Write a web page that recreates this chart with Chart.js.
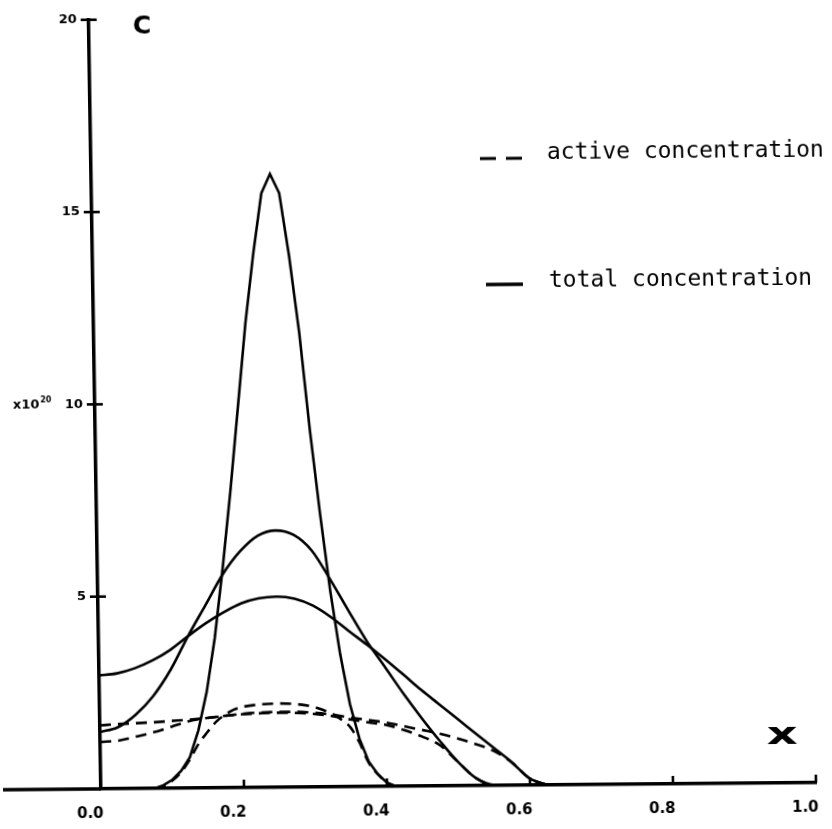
<!DOCTYPE html>
<html><head><meta charset="utf-8">
<style>
html,body{margin:0;padding:0;background:#fff;overflow:hidden;}
#wrap{position:absolute;left:0;top:0;width:860px;height:829px;}
canvas{transform:matrix(1,-0.0087,0.016,1,0,0);transform-origin:101px 789px;}
</style>
<script src="https://cdn.jsdelivr.net/npm/chart.js@4.4.1/dist/chart.umd.min.js"></script>
</head><body>
<div id="wrap"><canvas id="c" width="860" height="829"></canvas></div>
<script>
// ---- data ----
const xTickValues = [0, 0.2, 0.4, 0.6, 0.8, 1.0];
const yTickValues = [5, 10, 15, 20];
const seriesLabels = ["active concentration", "total concentration"];

const sharpX = [0, 0.075, 0.0875, 0.1, 0.1125, 0.125, 0.1375, 0.15, 0.1625, 0.175, 0.1875, 0.2, 0.2125, 0.225, 0.2375, 0.25, 0.2625, 0.275, 0.2875, 0.3, 0.3125, 0.325, 0.3375, 0.35, 0.3625, 0.375, 0.3875, 0.4, 0.4125];
const sharpTotal = [0, 0, 0.08, 0.22, 0.45, 0.8, 1.5, 2.5, 3.9, 5.7, 7.7, 9.9, 12.1, 13.9, 15.45, 15.95, 15.45, 13.8, 11.8, 9.3, 7.1, 5.1, 3.45, 2.15, 1.25, 0.65, 0.32, 0.1, 0];

const sharpActiveX = [0, 0.075, 0.0875, 0.1, 0.1125, 0.125, 0.1375, 0.15, 0.1625, 0.175, 0.1875, 0.2, 0.225, 0.25, 0.275, 0.3, 0.3125, 0.325, 0.3375, 0.35, 0.3625, 0.375, 0.3875, 0.4, 0.4125];
const sharpActive = [0, 0, 0.05, 0.2, 0.42, 0.75, 1.15, 1.45, 1.72, 1.9, 2.03, 2.1, 2.16, 2.18, 2.16, 2.08, 2.0, 1.9, 1.75, 1.55, 1.15, 0.62, 0.32, 0.1, 0];

const gridX = [0, 0.025, 0.05, 0.075, 0.1, 0.125, 0.15, 0.175, 0.2, 0.225, 0.25, 0.275, 0.3, 0.325, 0.35, 0.375, 0.4, 0.425, 0.45, 0.475, 0.5, 0.525, 0.55, 0.575, 0.6, 0.625];
const mediumTotal = [1.48, 1.6, 1.92, 2.4, 3.08, 3.95, 4.75, 5.55, 6.15, 6.55, 6.68, 6.56, 6.15, 5.4, 4.58, 3.78, 3.1, 2.41, 1.77, 1.17, 0.62, 0.19, 0.01, 0];
const mediumActive = [1.22, 1.25, 1.35, 1.46, 1.6, 1.74, 1.82, 1.87, 1.91, 1.93, 1.94, 1.93, 1.9, 1.84, 1.75, 1.67, 1.6, 1.46, 1.29, 1.06, 0.62, 0.19, 0.01, 0];
const wideTotal = [2.95, 3.0, 3.13, 3.33, 3.6, 3.95, 4.28, 4.56, 4.79, 4.92, 4.96, 4.9, 4.72, 4.42, 4.05, 3.69, 3.31, 2.91, 2.5, 2.12, 1.74, 1.36, 0.98, 0.6, 0.17, 0];
const wideActive = [1.65, 1.68, 1.7, 1.72, 1.75, 1.78, 1.82, 1.87, 1.92, 1.95, 1.96, 1.96, 1.93, 1.88, 1.8, 1.73, 1.66, 1.56, 1.46, 1.36, 1.23, 1.08, 0.9, 0.6, 0.17, 0];

// ---- build ----
const pts = (xs, ys) => ys.map((v, i) => ({x: xs[i], y: v}));
const INK = '#000';
const DASH = [11, 7];
const solid = (label, data, smooth) => ({label, data, showLine: true, borderColor: INK, borderWidth: 2.6, pointRadius: 0,
  tension: smooth ? 0.4 : 0, cubicInterpolationMode: smooth ? 'monotone' : 'default', fill: false});
const dashed = (label, data, smooth) => ({label, data, showLine: true, borderColor: INK, borderWidth: 2.6, borderDash: DASH, pointRadius: 0,
  tension: smooth ? 0.4 : 0, cubicInterpolationMode: smooth ? 'monotone' : 'default', fill: false});

const datasets = [
  solid(seriesLabels[1], pts(sharpX, sharpTotal), false),
  solid(seriesLabels[1], pts(gridX, mediumTotal), true),
  solid(seriesLabels[1], pts(gridX, wideTotal), true),
  dashed(seriesLabels[0], pts(sharpActiveX, sharpActive), true),
  dashed(seriesLabels[0], pts(gridX, mediumActive), true),
  dashed(seriesLabels[0], pts(gridX, wideActive), true)
];

const decor = {
  id: 'decor',
  afterDraw(chart) {
    const {ctx, chartArea: a, scales: {x, y}} = chart;
    ctx.save();
    ctx.strokeStyle = INK; ctx.fillStyle = INK; ctx.lineCap = 'butt';
    const y0 = y.getPixelForValue(0);
    // x axis continues left of the y axis
    ctx.lineWidth = 3.5;
    ctx.beginPath(); ctx.moveTo(3, y0); ctx.lineTo(a.left, y0); ctx.stroke();
    // y ticks crossing the axis
    ctx.lineWidth = 2.6;
    yTickValues.forEach(v => {
      const py = y.getPixelForValue(v);
      ctx.beginPath(); ctx.moveTo(a.left - 8, py); ctx.lineTo(a.left + 8, py); ctx.stroke();
    });
    // x ticks pointing up
    xTickValues.forEach(v => {
      if (v === 0) return;
      const px = x.getPixelForValue(v);
      ctx.beginPath(); ctx.moveTo(px, y0); ctx.lineTo(px, y0 - 8); ctx.stroke();
    });
    // panel letter
    ctx.font = 'bold 25px "DejaVu Sans"';
    ctx.textAlign = 'left'; ctx.textBaseline = 'alphabetic';
    ctx.fillText('C', 145, 34);
    // unit label x10^20
    ctx.font = 'bold 13px "DejaVu Sans"';
    ctx.fillText('x10', 19, 408);
    const w = ctx.measureText('x10').width;
    ctx.font = 'bold 8px "DejaVu Sans"';
    ctx.fillText('20', 19 + w + 1, 402);
    // x axis symbol
    ctx.save();
    ctx.translate(783, 750);
    ctx.scale(1.6, 1);
    ctx.font = 'bold 30px "DejaVu Sans"';
    ctx.textAlign = 'center';
    ctx.fillText('x', 0, 0);
    ctx.restore();
    // legend
    ctx.font = '23px "DejaVu Sans Mono"';
    ctx.textAlign = 'left';
    ctx.lineWidth = 3.2;
    ctx.setLineDash([16, 10]);
    ctx.beginPath(); ctx.moveTo(490, 162); ctx.lineTo(532, 162); ctx.stroke();
    ctx.setLineDash([]);
    ctx.fillText(seriesLabels[0], 557, 163);
    ctx.lineWidth = 3.4;
    ctx.beginPath(); ctx.moveTo(494, 288); ctx.lineTo(531, 288); ctx.stroke();
    ctx.fillText(seriesLabels[1], 557, 291);
    ctx.restore();
  }
};

new Chart(document.getElementById('c'), {
  type: 'scatter',
  data: {datasets},
  options: {
    responsive: false,
    animation: false,
    events: [],
    layout: {padding: {left: 0, right: 44, top: 18, bottom: 0}},
    plugins: {legend: {display: false}, tooltip: {enabled: false}, title: {display: false}},
    scales: {
      x: {
        type: 'linear', min: 0, max: 1,
        afterBuildTicks: s => { s.ticks = xTickValues.map(v => ({value: v})); },
        afterFit: s => { s.height = 40; },
        grid: {display: true, drawOnChartArea: false, drawTicks: false},
        border: {display: true, color: INK, width: 3.5},
        ticks: {color: INK, font: {family: 'DejaVu Sans', size: 15, weight: 'bold'}, padding: 16, labelOffset: -11,
                maxRotation: 0, autoSkip: false, callback: v => Number(v).toFixed(1)}
      },
      y: {
        type: 'linear', min: 0, max: 20,
        afterBuildTicks: s => { s.ticks = yTickValues.map(v => ({value: v})); },
        afterFit: s => { s.width = 101; },
        grid: {display: true, drawOnChartArea: false, drawTicks: false},
        border: {display: true, color: INK, width: 3.5},
        ticks: {color: INK, font: {family: 'DejaVu Sans', size: 13, weight: 'bold'}, padding: 12, autoSkip: false,
                callback: v => String(v)}
      }
    }
  },
  plugins: [decor]
});
</script>
</body></html>
